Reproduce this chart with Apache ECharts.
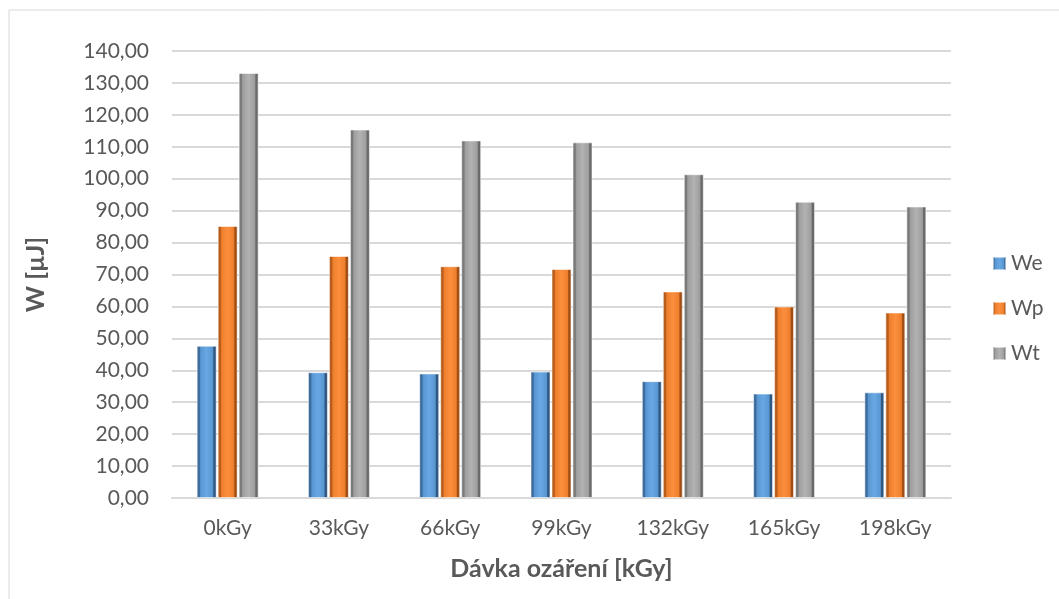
<!DOCTYPE html>
<html>
<head>
<meta charset="utf-8">
<script src="https://cdn.jsdelivr.net/npm/echarts@6/dist/echarts.min.js"></script>
<style>html,body{margin:0;padding:0;background:#fff;}#c{width:1059px;height:599px;}</style>
</head>
<body>
<div id="c"></div>
<script>
const categories = ['0kGy', '33kGy', '66kGy', '99kGy', '132kGy', '165kGy', '198kGy'];
const We = [47.7, 39.4, 39.0, 39.6, 36.6, 32.7, 33.1];
const Wp = [85.2, 75.8, 72.6, 71.7, 64.7, 60.0, 58.1];
const Wt = [133.1, 115.4, 112.0, 111.4, 101.4, 92.8, 91.3];
const yTicks = { min: 0, max: 140, interval: 10 };

function bevel(edgeL, mid, hi, edgeR) {
  return {
    type: 'linear', x: 0, y: 0, x2: 1, y2: 0,
    colorStops: [
      { offset: 0, color: edgeL },
      { offset: 0.14, color: edgeL },
      { offset: 0.2, color: mid },
      { offset: 0.5, color: hi },
      { offset: 0.8, color: mid },
      { offset: 0.86, color: edgeR },
      { offset: 1, color: edgeR }
    ]
  };
}
const colors = {
  We: bevel('#3d6c9c', '#5896d2', '#68a8e2', '#2f5780'),
  Wp: bevel('#b85d1c', '#ee7e2c', '#fb8f3e', '#a14f14'),
  Wt: bevel('#7a7a7a', '#9e9e9e', '#b2b2b2', '#6a6a6a')
};
const legendColors = { We: '#5b9bd5', Wp: '#ed7d31', Wt: '#a5a5a5' };
const font = 'Lato, "Open Sans", sans-serif';

function mk(name, data) {
  return {
    name, type: 'bar', data, barWidth: 20, barGap: '5%',
    itemStyle: { color: colors[name], borderColor: 'rgba(255,255,255,0.55)', borderWidth: 1 }
  };
}

const chart = echarts.init(document.getElementById('c'), null, { renderer: 'canvas' });
chart.setOption({
  animation: false,
  backgroundColor: '#fff',
  color: [legendColors.We, legendColors.Wp, legendColors.Wt],
  grid: { left: 172, right: 108, top: 51, bottom: 101, containLabel: false },
  legend: {
    orient: 'vertical', left: 987, top: 248, itemGap: 24,
    itemWidth: 13, itemHeight: 13, icon: 'rect',
    textStyle: { fontFamily: font, fontSize: 21, color: '#595959' },
    data: ['We', 'Wp', 'Wt']
  },
  xAxis: {
    type: 'category', data: categories,
    axisLine: { lineStyle: { color: '#d9d9d9', width: 2 } },
    axisTick: { show: false },
    axisLabel: { fontFamily: font, fontSize: 21, color: '#595959', margin: 20 },
    name: 'Dávka ozáření [kGy]', nameLocation: 'middle', nameGap: 58,
    nameTextStyle: { fontFamily: font, fontSize: 25, fontWeight: 'bold', color: '#595959' }
  },
  yAxis: {
    type: 'value', min: yTicks.min, max: yTicks.max, interval: yTicks.interval,
    axisLine: { show: false }, axisTick: { show: false },
    splitLine: { lineStyle: { color: '#d9d9d9', width: 2 } },
    axisLabel: {
      fontFamily: font, fontSize: 21, color: '#595959', margin: 23,
      formatter: v => v.toFixed(2).replace('.', ',')
    },
    name: 'W [µJ]', nameLocation: 'middle', nameGap: 124, nameRotate: 90,
    nameTextStyle: { fontFamily: font, fontSize: 25, fontWeight: 'bold', color: '#595959' }
  },
  series: [mk('We', We), mk('Wp', Wp), mk('Wt', Wt)],
  graphic: [
    { type: 'line', shape: { x1: 9, y1: 10, x2: 1059, y2: 10 }, style: { stroke: '#d9d9d9', lineWidth: 1 } },
    { type: 'line', shape: { x1: 9, y1: 10, x2: 9, y2: 599 }, style: { stroke: '#d9d9d9', lineWidth: 1 } }
  ]
});
</script>
</body>
</html>
